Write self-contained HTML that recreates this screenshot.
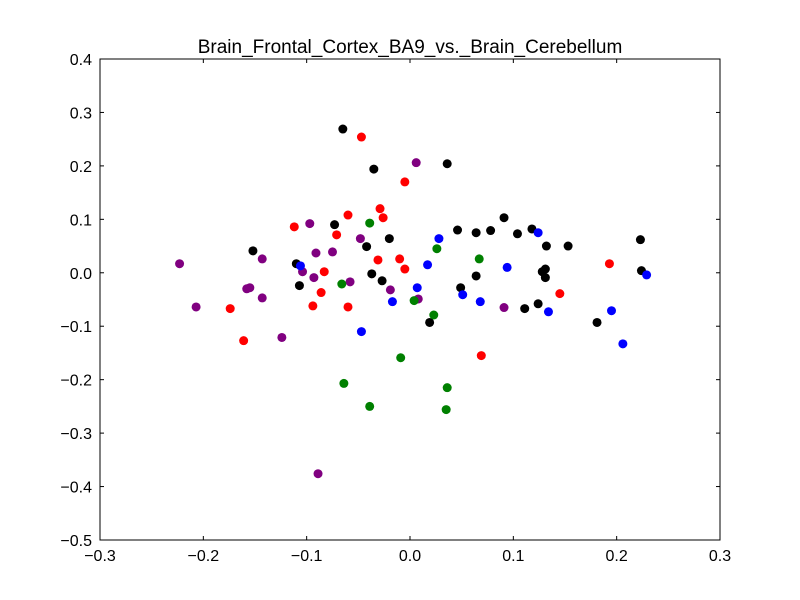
<!DOCTYPE html>
<html><head><meta charset="utf-8"><style>
body{margin:0;background:#fff;}
svg{display:block;font-family:"Liberation Sans",sans-serif;}
</style></head><body>
<svg id="chart" width="800" height="600">
<rect width="800" height="600" fill="#fff"/>
<text x="410" y="53" font-size="19" text-anchor="middle">Brain_Frontal_Cortex_BA9_vs._Brain_Cerebellum</text>
<g id="ticks"></g>
<g id="points"></g>
<rect x="100" y="59" width="620" height="481" fill="none" stroke="#000" stroke-width="1"/>
</svg>
<script>
const xTicks=[-0.3,-0.2,-0.1,0.0,0.1,0.2,0.3];
const yTicks=[0.4,0.3,0.2,0.1,0.0,-0.1,-0.2,-0.3,-0.4,-0.5];
const blackX=[-0.065,-0.035,0.036,-0.073,-0.020,-0.042,-0.152,-0.110,-0.107,-0.037,-0.027,0.046,0.064,0.078,0.091,0.104,0.118,0.132,0.131,0.128,0.131,0.064,0.049,0.019,0.111,0.124,0.153,0.181,0.223,0.224];
const blackY=[0.269,0.194,0.204,0.090,0.064,0.049,0.041,0.017,-0.024,-0.002,-0.015,0.080,0.075,0.079,0.103,0.073,0.082,0.050,0.007,0.002,-0.009,-0.006,-0.028,-0.093,-0.067,-0.058,0.050,-0.093,0.062,0.004];
const redX=[-0.047,-0.005,-0.029,-0.026,-0.060,-0.112,-0.071,-0.031,-0.010,-0.005,-0.083,-0.086,-0.094,-0.060,-0.174,-0.161,0.069,0.145,0.193];
const redY=[0.254,0.170,0.120,0.103,0.108,0.086,0.071,0.024,0.026,0.007,0.002,-0.037,-0.062,-0.064,-0.067,-0.127,-0.155,-0.039,0.017];
const purpleX=[0.006,-0.097,-0.048,-0.075,-0.091,-0.143,-0.223,-0.104,-0.093,-0.058,-0.019,-0.155,-0.158,-0.143,-0.207,-0.124,-0.089,0.008,0.091];
const purpleY=[0.206,0.092,0.064,0.039,0.037,0.026,0.017,0.002,-0.009,-0.017,-0.032,-0.028,-0.030,-0.047,-0.064,-0.121,-0.376,-0.049,-0.065];
const greenX=[-0.039,0.026,0.067,-0.066,0.004,0.023,-0.009,-0.064,0.036,-0.039,0.035];
const greenY=[0.093,0.045,0.026,-0.021,-0.052,-0.079,-0.159,-0.207,-0.215,-0.250,-0.256];
const blueX=[-0.106,0.028,0.017,0.124,0.094,-0.017,0.007,0.051,0.068,-0.047,0.134,0.195,0.206,0.229];
const blueY=[0.013,0.064,0.015,0.075,0.010,-0.054,-0.028,-0.041,-0.054,-0.110,-0.073,-0.071,-0.133,-0.004];

const L=100,R=720,T=59,B=540;
function sx(v){return L+(v+0.3)/0.6*(R-L);}
function sy(v){return T+(0.4-v)/0.9*(B-T);}
const NS='http://www.w3.org/2000/svg';
const tg=document.getElementById('ticks');
function mk(tag,attrs,parent){const e=document.createElementNS(NS,tag);for(const k in attrs)e.setAttribute(k,attrs[k]);parent.appendChild(e);return e;}
xTicks.forEach(v=>{
  const x=sx(v);
  const t1=mk('line',{x1:x,x2:x,y1:B,y2:B-4,stroke:'#000'},tg);
  
  
  const t2=mk('line',{x1:x,x2:x,y1:T,y2:T+4,stroke:'#000'},tg);
  
  
  const lb=mk('text',{x:x,y:B+21,'font-size':16,'text-anchor':'middle'},tg);
  lb.textContent=v.toFixed(1).replace('-','\u2212');
  
  
});
yTicks.forEach(v=>{
  const y=sy(v);
  const t1=mk('line',{x1:L,x2:L+4,y1:y,y2:y,stroke:'#000'},tg);
  
  
  const t2=mk('line',{x1:R,x2:R-4,y1:y,y2:y,stroke:'#000'},tg);
  
  
  const lb=mk('text',{x:L-8,y:y+6,'font-size':16,'text-anchor':'end'},tg);
  lb.textContent=v.toFixed(1).replace('-','\u2212');
  
  
});
const pg=document.getElementById('points');
[[blackX,blackY,'#000000','black'],[redX,redY,'#ff0000','red'],[purpleX,purpleY,'#800080','purple'],[greenX,greenY,'#008000','green'],[blueX,blueY,'#0000ff','blue']].forEach(s=>{
  s[0].forEach((xv,i)=>{
    const c=mk('circle',{cx:sx(xv),cy:sy(s[1][i]),r:4.5,fill:s[2]},pg);
    
    
  });
});
</script>
</body></html>
